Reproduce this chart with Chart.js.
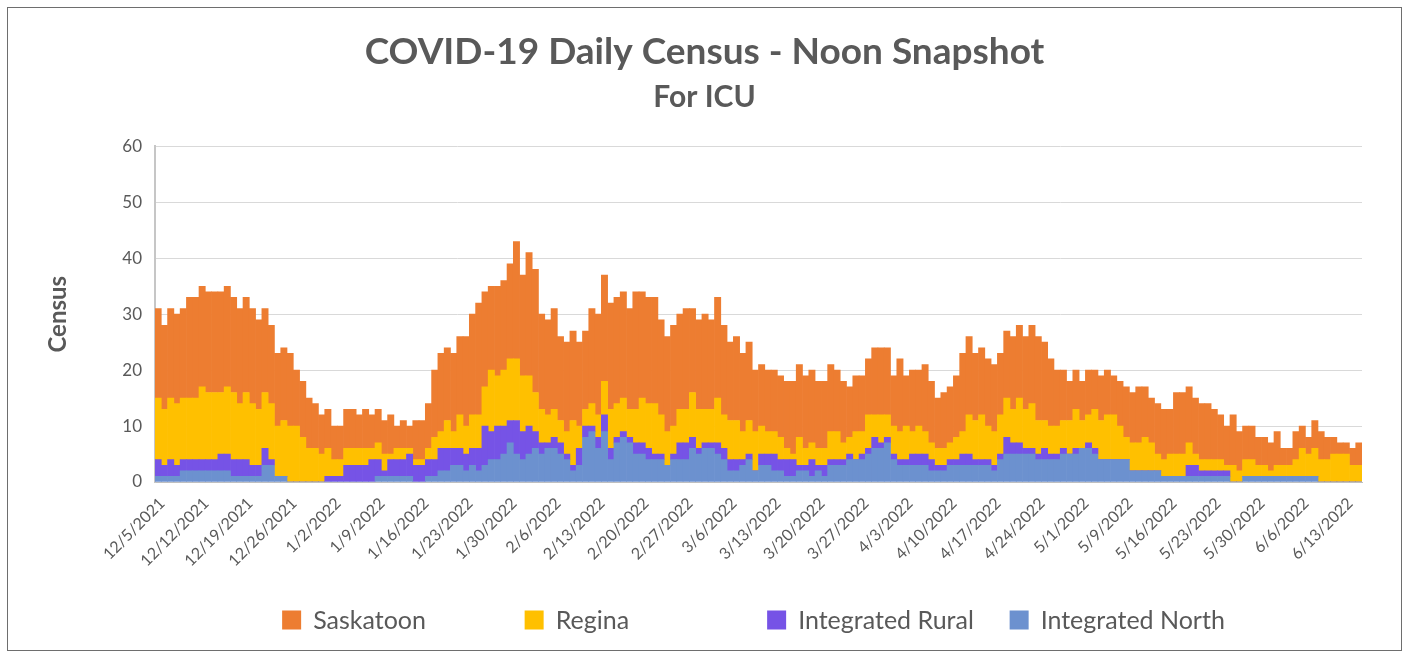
<!DOCTYPE html>
<html>
<head>
<meta charset="utf-8">
<script src="https://cdn.jsdelivr.net/npm/chart.js@4.4.1/dist/chart.umd.min.js"></script>
<style>
  html, body { margin: 0; padding: 0; background: #fff; }
  #wrap { position: relative; width: 1409px; height: 656px; }
</style>
</head>
<body>
<div id="wrap"><canvas id="censusChart" width="1409" height="656"></canvas></div>
<script>
// daily census, one value per day (5/8/2022 has no entry in the source)
const startDate = Date.UTC(2021, 11, 5);
const skippedDates = ['5/8/2022'];
const categories = [];
for (let i = 0; categories.length < 192; i++) {
  const d = new Date(startDate + i * 86400000);
  const label = (d.getUTCMonth() + 1) + '/' + d.getUTCDate() + '/' + d.getUTCFullYear();
  if (!skippedDates.includes(label)) categories.push(label);
}
const labelEvery = 7;

const integratedNorth = [
  1,1,1,1,2,2,2, 2,2,2,2,2,1,1, 1,1,1,3,3,1,1, 0,0,0,0,0,0,0,
  0,0,0,0,0,0,0, 1,1,1,1,1,1,0, 0,1,1,2,2,3,3, 2,3,2,3,4,4,5,
  7,5,4,5,6,5,6, 6,5,4,2,3,8,9, 6,9,4,7,8,7,5, 5,4,4,4,3,4,4,
  4,6,5,6,6,5,4, 2,2,3,4,2,3,3, 2,2,1,1,2,2,1, 2,1,3,3,3,4,4,
  4,5,6,6,7,4,3, 3,3,3,3,2,2,2, 3,3,3,3,3,3,3, 2,4,5,5,5,5,5,
  4,4,4,4,5,5,5, 6,6,5,4,4,4,4, 4,2,2,2,2,2,1, 1,1,1,1,1,1,1,
  1,1,1,0,0,1,1, 1,1,1,1,1,1,1, 1,1,1,0,0,0,0, 0,0,0
];
const integratedRural = [
  3,2,3,2,2,2,2, 2,2,2,3,3,3,3, 3,2,2,3,1,0,0, 0,0,0,0,0,0,1,
  1,1,3,3,3,3,4, 3,1,3,3,3,4,3, 3,3,3,4,4,3,3, 3,3,4,7,5,6,5,
  4,6,5,5,3,2,1, 2,2,1,1,3,2,1, 2,3,2,1,1,1,2, 2,2,1,1,0,1,3,
  3,2,1,1,1,2,2, 2,2,1,1,0,2,2, 3,2,3,3,1,1,3, 1,2,1,1,1,1,0,
  1,1,2,1,1,1,1, 1,2,2,2,2,1,1, 1,1,2,2,1,1,1, 1,1,3,2,2,1,1,
  1,2,1,1,1,0,1, 0,1,1,0,0,0,0, 0,0,0,0,0,0,0, 0,0,0,2,2,1,1,
  1,1,1,0,0,0,0, 0,0,0,0,0,0,0, 0,0,0,0,0,0,0, 0,0,0
];
const regina = [
  11,10,11,11,11,11,11, 13,12,12,11,12,12,10, 12,11,10,10,10,9,10, 10,10,8,6,6,5,5,
  3,3,3,3,3,3,2, 3,3,1,2,2,1,1, 1,2,4,3,5,3,6, 5,6,6,7,11,9,10,
  11,11,10,9,7,6,5, 5,4,4,8,4,3,4, 4,6,7,6,6,5,6, 8,8,9,7,6,5,6,
  6,8,7,6,6,8,6, 7,7,5,6,7,5,4, 4,4,2,1,5,3,3, 3,3,5,5,3,3,5,
  4,6,4,5,4,5,5, 6,4,5,4,3,3,3, 3,4,4,7,7,8,6, 6,7,7,6,8,7,8,
  6,5,5,5,5,6,7, 5,5,7,7,8,8,6, 4,5,5,6,5,3,3, 4,4,4,4,2,2,2,
  2,2,1,3,2,3,3, 2,2,1,2,2,2,3, 5,4,5,4,4,5,5, 5,3,3
];
const saskatoon = [
  16,15,16,16,16,18,18, 18,18,18,18,18,17,17, 17,17,16,15,14,13,13, 13,10,10,9,8,7,7,
  6,6,7,7,6,7,6, 6,6,7,4,5,4,7, 7,8,12,14,13,14,14, 16,18,20,17,15,16,16,
  17,21,18,22,22,17,17, 18,15,16,16,15,14,17, 18,19,19,19,19,18,21, 19,19,19,17,17,18,17,
  18,15,16,17,16,18,16, 14,15,14,14,11,11,11, 11,11,12,13,13,13,13, 12,12,12,11,11,9,10,
  10,10,12,12,12,9,13, 9,11,10,12,11,9,10, 10,11,14,14,12,12,12, 12,11,12,13,13,13,14,
  15,14,12,10,9,7,7, 7,8,7,8,8,7,8, 9,9,10,9,8,9,9, 8,11,11,10,10,10,10,
  9,8,7,9,7,6,6, 5,5,5,6,3,3,5, 4,3,5,5,4,3,2, 2,3,4
];

const textColor = '#595959';
const fontFamily = 'Lato, "Open Sans", sans-serif';

// white background plus the thin frame round the whole chart
const frame = {
  id: 'frame',
  beforeDraw(chart) {
    const ctx = chart.ctx;
    ctx.save();
    ctx.fillStyle = '#fff';
    ctx.fillRect(0, 0, chart.width, chart.height);
    ctx.strokeStyle = '#6e6e6e';
    ctx.lineWidth = 1;
    ctx.strokeRect(7.5, 7.5, 1394, 643);
    ctx.restore();
  }
};

// legend in equal-width slots like the Excel one
const slotLegend = {
  id: 'slotLegend',
  afterDraw(chart) {
    const {ctx, chartArea} = chart;
    const items = chart.data.datasets.slice().reverse();
    const slot = 242.5, box = 19, gap = 12, y = 620;
    ctx.save();
    ctx.font = '25px ' + fontFamily;
    const lastW = box + gap + ctx.measureText(items[items.length - 1].label).width;
    const total = slot * (items.length - 1) + lastW;
    let x = (chartArea.left + chartArea.right) / 2 - total / 2 - 5;
    ctx.textBaseline = 'middle';
    items.forEach(ds => {
      ctx.fillStyle = ds.backgroundColor;
      ctx.fillRect(x, y - box / 2, box, box);
      ctx.fillStyle = textColor;
      ctx.fillText(ds.label, x + box + gap, y + 1);
      x += slot;
    });
    ctx.restore();
  }
};

const ctx = document.getElementById('censusChart').getContext('2d');

new Chart(ctx, {
  type: 'bar',
  data: {
    labels: categories,
    datasets: [
      { label: 'Integrated North', data: integratedNorth, backgroundColor: '#6c91cf' },
      { label: 'Integrated Rural', data: integratedRural, backgroundColor: '#7653e6' },
      { label: 'Regina', data: regina, backgroundColor: '#ffc000' },
      { label: 'Saskatoon', data: saskatoon, backgroundColor: '#ed7d31' }
    ]
  },
  options: {
    responsive: false,
    animation: false,
    layout: { padding: 0 },
    datasets: {
      bar: { categoryPercentage: 1, barPercentage: 1, borderWidth: 0 }
    },
    scales: {
      x: {
        stacked: true,
        grid: { display: false },
        border: { color: '#bfbfbf', width: 1 },
        ticks: {
          autoSkip: false,
          maxRotation: 45,
          minRotation: 45,
          padding: 4,
          labelOffset: 4,
          color: textColor,
          font: { family: fontFamily, size: 16 },
          callback: (value, index) => index % labelEvery === 0 ? categories[index] : ''
        },
        afterFit: scale => { scale.height = 174; }
      },
      y: {
        stacked: true,
        min: 0,
        max: 60,
        ticks: {
          stepSize: 10,
          padding: 13,
          color: textColor,
          font: { family: fontFamily, size: 17 }
        },
        grid: { color: '#d9d9d9', drawTicks: false },
        border: { color: '#c6c6c6', width: 2 },
        title: {
          display: true,
          text: 'Census',
          color: textColor,
          padding: { top: 44, bottom: 0 },
          font: { family: fontFamily, size: 24, weight: 'bold' }
        },
        afterFit: scale => { scale.width = 155; }
      },
      // empty strip on the right so the plot ends where the reference does
      rightGap: {
        position: 'right',
        display: true,
        grid: { display: false },
        border: { display: false },
        ticks: { display: false },
        afterFit: scale => { scale.width = 47; }
      }
    },
    plugins: {
      legend: { display: false },
      tooltip: { enabled: false },
      title: {
        display: true,
        text: 'COVID-19 Daily Census - Noon Snapshot',
        color: textColor,
        padding: { top: 30, bottom: 0 },
        font: { family: fontFamily, size: 37, weight: 'bold', lineHeight: 1.2 }
      },
      subtitle: {
        display: true,
        text: 'For ICU',
        color: textColor,
        padding: { top: 5, bottom: 31 },
        font: { family: fontFamily, size: 30, weight: 'bold', lineHeight: 1.2 }
      }
    }
  },
  plugins: [frame, slotLegend]
});
</script>
</body>
</html>
